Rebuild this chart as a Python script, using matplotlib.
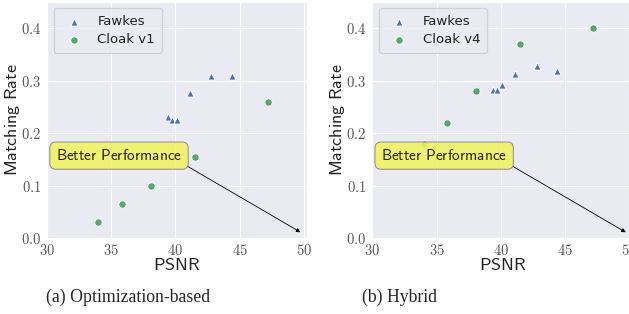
import numpy as np
import matplotlib
matplotlib.use('Agg')
import matplotlib.pyplot as plt
import seaborn as sns
from matplotlib.ticker import FormatStrFormatter

# data
fawkes_psnr = [39.4, 39.7, 40.1, 41.1, 42.8, 44.4]
fawkes_rate_a = [0.230, 0.225, 0.225, 0.277, 0.308, 0.308]
fawkes_rate_b = [0.283, 0.283, 0.292, 0.313, 0.328, 0.318]

cloak_psnr = [34.0, 35.8, 38.1, 41.5, 47.2]
cloak_v1_rate = [0.030, 0.065, 0.100, 0.155, 0.260]
cloak_v4_rate = [0.180, 0.220, 0.280, 0.370, 0.400]

panels = [
    (fawkes_rate_a, cloak_v1_rate, 'Cloak v1', '(a) Optimization-based'),
    (fawkes_rate_b, cloak_v4_rate, 'Cloak v4', '(b) Hybrid'),
]

sns.set_style('darkgrid')
plt.rcParams['mathtext.fontset'] = 'cm'

blue = '#4C72B0'
green = '#55A868'

fig = plt.figure(figsize=(6.29, 3.14), dpi=100)
lefts = [0.075, 0.592]
caption_x = [0.204, 0.635]

for i, (frate, crate, clabel, caption) in enumerate(panels):
    ax = fig.add_axes([lefts[i], 0.242, 0.413, 0.752])
    ax.scatter(fawkes_psnr, frate, marker='^', s=26, color=blue,
               edgecolor='white', linewidth=0.6, label='Fawkes', zorder=3)
    ax.scatter(cloak_psnr, crate, marker='o', s=28, color=green,
               edgecolor='white', linewidth=0.6, label=clabel, zorder=3)

    ax.annotate(r'$\mathsf{Better\ Performance}$', xy=(49.75, 0.011),
                xytext=(35.6, 0.157), ha='center', va='center',
                fontsize=11, color='#222222',
                bbox=dict(boxstyle='round,pad=0.4', fc='#f3f35a', ec='#888888',
                          alpha=0.85, lw=0.8),
                arrowprops=dict(arrowstyle='-|>', color='black', lw=0.6,
                                mutation_scale=6, shrinkA=0, shrinkB=0,
                                relpos=(1.0, 0.0)),
                zorder=4)

    ax.set_xlim(30, 50.25)
    ax.set_ylim(0, 0.45)
    ax.set_xticks([30, 35, 40, 45, 50])
    ax.set_yticks([0.0, 0.1, 0.2, 0.3, 0.4])
    ax.xaxis.set_major_formatter(FormatStrFormatter('$%d$'))
    ax.yaxis.set_major_formatter(FormatStrFormatter('$%.1f$'))
    ax.tick_params(labelsize=10.5, colors='#555555', pad=1)
    ax.tick_params(axis='x', pad=0)
    ax.set_xlabel(r'$\mathsf{PSNR}$', fontsize=13, labelpad=-1.5, color='#222222')
    ax.set_ylabel(r'$\mathsf{Matching\ Rate}$', fontsize=13, labelpad=-1, color='#222222')

    leg = ax.legend(loc='upper left', fontsize=9.5, frameon=True,
                    handletextpad=0.8, borderpad=0.5, labelspacing=0.4)
    for t in leg.get_texts():
        t.set_color('#222222')

    fig.text(caption_x[i], 0.054, caption, ha='center', va='center',
             fontsize=12.8, family='Liberation Serif')

fig.savefig('out.png', dpi=100)
